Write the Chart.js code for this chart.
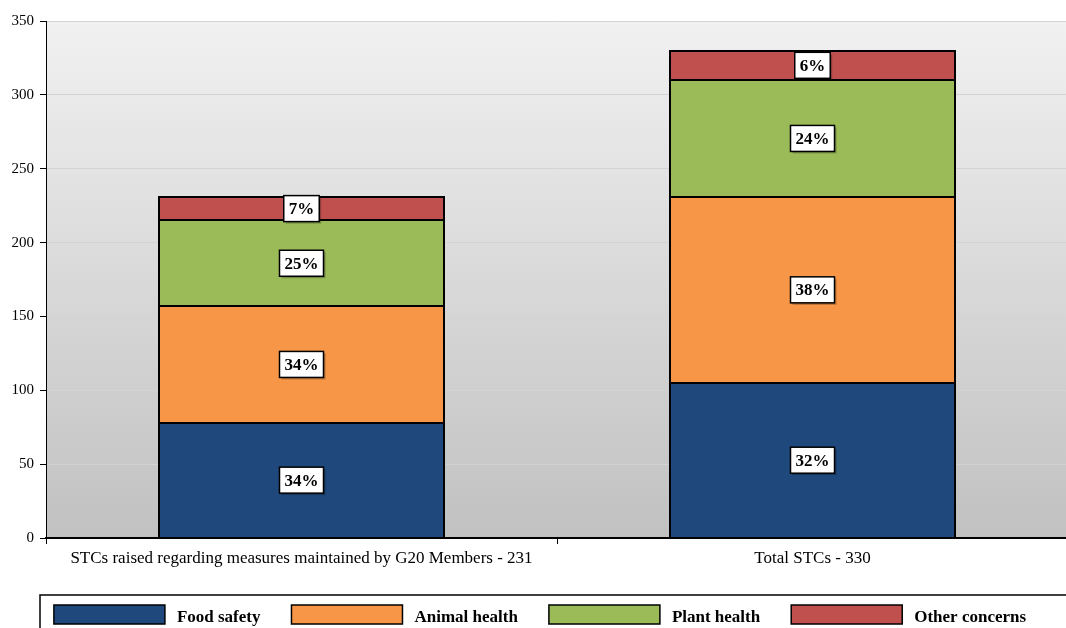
<!DOCTYPE html>
<html>
<head>
<meta charset="utf-8">
<script src="https://cdn.jsdelivr.net/npm/chart.js@4.4.0/dist/chart.umd.min.js"></script>
<style>
  html, body { margin: 0; padding: 0; background: #fff; overflow: hidden; }
  #wrap { width: 1070px; height: 640px; }
</style>
</head>
<body>
<div id="wrap"><canvas id="stcChart"></canvas></div>
<script>
// data
const categories = ["STCs raised regarding measures maintained by G20 Members - 231", "Total STCs - 330"];
const seriesNames = ["Food safety", "Animal health", "Plant health", "Other concerns"];
const foodSafety = [78, 105];
const animalHealth = [79, 126];
const plantHealth = [58, 79];
const otherConcerns = [16, 20];
const yTicks = [0, 50, 100, 150, 200, 250, 300, 350];

const colours = ["#1f497d", "#f79646", "#9bbb59", "#c0504d"];
const serif = "'Liberation Serif', 'Times New Roman', serif";

// grey gradient behind the plot
const plotBackground = {
  id: "plotBackground",
  beforeDraw(chart) {
    const { ctx, chartArea: a } = chart;
    const g = ctx.createLinearGradient(0, a.top, 0, a.bottom);
    g.addColorStop(0, "#f1f1f1");
    g.addColorStop(1, "#c1c1c1");
    ctx.save();
    ctx.fillStyle = g;
    ctx.fillRect(a.left, a.top, a.right - a.left, a.bottom - a.top);
    ctx.restore();
  }
};

// black outlines (drawn once so joints are not doubled) + white percentage boxes
const percentLabels = {
  id: "percentLabels",
  afterDatasetsDraw(chart) {
    const ctx = chart.ctx;
    const ds = chart.data.datasets;
    ctx.save();
    ctx.lineWidth = 2;
    ctx.strokeStyle = "#000";
    ds.forEach((d, i) => {
      chart.getDatasetMeta(i).data.forEach(bar => {
        const x0 = Math.round(bar.x - bar.width / 2);
        const x1 = Math.round(bar.x + bar.width / 2);
        ctx.strokeRect(x0, Math.round(bar.y), x1 - x0, Math.round(bar.base) - Math.round(bar.y));
      });
    });
    ctx.font = "bold 17px " + serif;
    ctx.textAlign = "center";
    ctx.textBaseline = "middle";
    ds.forEach((d, i) => {
      chart.getDatasetMeta(i).data.forEach((bar, j) => {
        const total = ds.reduce((s, dd) => s + dd.data[j], 0);
        const txt = Math.round(d.data[j] / total * 100) + "%";
        const w = ctx.measureText(txt).width + 10;
        const h = 26;
        const x = bar.x;
        const y = (bar.y + bar.base) / 2;
        ctx.fillStyle = "rgba(0,0,0,0.25)";
        ctx.fillRect(x - w / 2 + 2, y - h / 2 + 2, w, h);
        ctx.fillStyle = "#fff";
        ctx.fillRect(x - w / 2, y - h / 2, w, h);
        ctx.lineWidth = 1.5;
        ctx.strokeStyle = "#000";
        ctx.strokeRect(x - w / 2, y - h / 2, w, h);
        ctx.fillStyle = "#000";
        ctx.fillText(txt, x, y + 1);
      });
    });
    ctx.restore();
  }
};

// boxed legend along the bottom
const boxLegend = {
  id: "boxLegend",
  afterDraw(chart) {
    const ctx = chart.ctx;
    const ds = chart.data.datasets;
    ctx.save();
    ctx.lineWidth = 1.5;
    ctx.strokeStyle = "#000";
    ctx.strokeRect(40, 595, chart.width, 100);
    ctx.font = "bold 17px " + serif;
    ctx.textBaseline = "middle";
    const boxW = 111, boxH = 19, gapText = 12, gapItem = 31;
    let total = 0;
    ds.forEach(d => { total += boxW + gapText + ctx.measureText(d.label).width; });
    total += gapItem * (ds.length - 1);
    let x = 540 - total / 2;
    const y = 605;
    ds.forEach(d => {
      ctx.fillStyle = d.backgroundColor;
      ctx.fillRect(x, y, boxW, boxH);
      ctx.lineWidth = 1.5;
      ctx.strokeRect(x, y, boxW, boxH);
      x += boxW + gapText;
      ctx.fillStyle = "#000";
      ctx.fillText(d.label, x, y + boxH / 2 + 3);
      x += ctx.measureText(d.label).width + gapItem;
    });
    ctx.restore();
  }
};

const seriesData = [foodSafety, animalHealth, plantHealth, otherConcerns];

new Chart(document.getElementById("stcChart"), {
  type: "bar",
  data: {
    labels: categories,
    datasets: seriesNames.map((name, i) => ({
      label: name,
      data: seriesData[i],
      backgroundColor: colours[i],
      borderWidth: 0,
      barPercentage: 0.556,
      categoryPercentage: 1
    }))
  },
  options: {
    responsive: true,
    maintainAspectRatio: false,
    animation: false,
    layout: { padding: { top: 21, right: 2, bottom: 62, left: 0 } },
    plugins: {
      legend: { display: false },
      tooltip: { enabled: false }
    },
    scales: {
      x: {
        stacked: true,
        afterFit: s => { s.height = 40; },
        grid: { offset: true, drawOnChartArea: false, tickColor: "#000", tickLength: 6 },
        border: { color: "#000", width: 2 },
        ticks: { color: "#000", padding: 4, font: { family: serif, size: 17 }, maxRotation: 0 }
      },
      y: {
        stacked: true,
        min: 0,
        max: yTicks[yTicks.length - 1],
        afterFit: s => { s.width = 46; },
        afterBuildTicks: s => { s.ticks = yTicks.map(v => ({ value: v })); },
        grid: { color: "#d3d3d3", tickColor: "#000", tickLength: 6 },
        border: { color: "#000", width: 1 },
        ticks: { color: "#000", padding: 6, font: { family: serif, size: 15 } }
      }
    }
  },
  plugins: [plotBackground, percentLabels, boxLegend]
});
</script>
</body>
</html>
